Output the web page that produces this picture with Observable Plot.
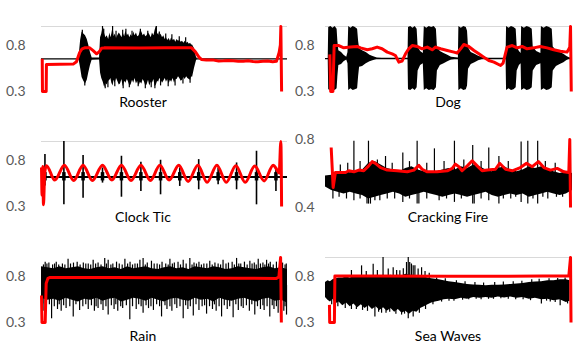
<!DOCTYPE html>
<html><head><meta charset="utf-8">
<script src="https://cdn.jsdelivr.net/npm/d3@7"></script>
<script src="https://cdn.jsdelivr.net/npm/@observablehq/plot@0.6"></script>
<style>
html,body{margin:0;padding:0;background:#fff;}
#chart{position:relative;width:579px;height:361px;overflow:hidden;font-family:Lato,sans-serif;}
#chart svg.panel{position:absolute;overflow:visible;}
#titles{position:absolute;left:0;top:0;}
</style></head><body><div id="chart"></div><script>
// ---------- titles & ticks ----------
const titles = ["Rooster","Dog","Clock Tic","Cracking Fire","Rain","Sea Waves"];
const ticksStd = [0.3, 0.8];
const ticksFire = [0.4, 0.8];

// ---------- Rooster ----------
const roosterCenter = 0.652;
const roosterEnvelope = [[0,0.652,0.652],[15.2,0.652,0.652],[15.9,0.55,0.85],[16.5,0.45,0.94],[17.2,0.41,0.92],[17.9,0.38,0.90],[18.6,0.42,0.86],[19.2,0.50,0.80],[19.9,0.58,0.72],[20.6,0.64,0.66],[23.6,0.645,0.66],[24.0,0.50,0.88],[24.5,0.44,0.92],[25.1,0.40,1.0],[25.7,0.34,0.92],[26.2,0.39,0.88],[26.7,0.37,0.90],[27.3,0.41,0.86],[27.8,0.42,0.93],[28.2,0.44,0.88],[28.6,0.39,0.92],[29.1,0.36,1.0],[29.5,0.42,0.89],[29.9,0.39,0.92],[30.5,0.44,0.87],[31.0,0.41,0.90],[31.6,0.37,0.93],[32.1,0.38,0.91],[32.7,0.43,0.88],[33.2,0.35,0.93],[33.8,0.41,0.89],[34.3,0.39,0.95],[34.9,0.43,0.90],[35.4,0.40,0.92],[35.9,0.36,0.88],[36.4,0.37,0.91],[37.0,0.42,0.89],[37.5,0.39,0.94],[38.0,0.44,0.90],[38.6,0.38,0.93],[39.1,0.41,0.89],[39.7,0.36,0.90],[40.2,0.40,0.95],[40.8,0.38,0.94],[41.3,0.43,0.90],[41.9,0.40,0.92],[42.4,0.36,0.89],[42.9,0.37,0.90],[43.5,0.42,0.93],[44.0,0.36,0.91],[44.6,0.40,0.88],[45.1,0.39,0.93],[45.7,0.43,0.90],[46.2,0.35,0.96],[46.7,0.37,1.0],[47.2,0.41,0.91],[47.6,0.40,0.93],[48.1,0.44,0.89],[48.6,0.42,0.92],[49.2,0.39,0.88],[49.7,0.41,0.90],[50.3,0.44,0.86],[50.8,0.40,0.88],[51.3,0.43,0.85],[51.9,0.38,0.87],[52.4,0.42,0.84],[52.9,0.40,0.88],[53.5,0.44,0.85],[54.1,0.39,0.86],[54.6,0.43,0.83],[55.1,0.43,0.86],[55.7,0.46,0.84],[56.2,0.44,0.85],[56.8,0.41,0.83],[57.3,0.42,0.84],[57.9,0.45,0.82],[58.4,0.43,0.84],[59.0,0.46,0.82],[59.5,0.44,0.83],[60.1,0.43,0.81],[60.6,0.42,0.82],[61.0,0.46,0.80],[61.4,0.45,0.80],[62.2,0.55,0.76],[63.0,0.63,0.67],[63.4,0.652,0.652],[100,0.652,0.652]];
const roosterSpikesUp = [[16.6,0.96],[24.8,1.0],[25.3,0.97],[28.9,1.0],[30.3,0.95],[33.0,0.96],[34.3,0.97],[36.8,0.95],[40.2,0.97],[43.2,0.95],[46.7,1.0],[47.9,0.94],[50.5,0.92],[53.0,0.91],[56.0,0.89],[58.6,0.88]];
const roosterSpikesDown = [[17.6,0.36],[25.9,0.33],[27.0,0.34],[29.8,0.35],[33.2,0.33],[35.7,0.34],[39.3,0.35],[42.2,0.33],[44.6,0.34],[46.1,0.33],[48.4,0.36],[51.5,0.35],[54.3,0.36],[57.5,0.38],[60.4,0.39]];
const roosterRed = [[0.3,0.652],[0.4,0.30],[1.9,0.30],[2.0,0.59],[12.9,0.595],[14.2,0.62],[15.5,0.72],[16.5,0.76],[17.5,0.77],[19.6,0.77],[21,0.74],[22.4,0.706],[23.5,0.73],[24.4,0.765],[25.5,0.77],[40,0.768],[50,0.77],[61,0.77],[62.5,0.73],[64,0.67],[65,0.645],[67,0.64],[70,0.638],[72,0.628],[74,0.63],[76,0.635],[78,0.632],[80,0.625],[82,0.625],[84,0.63],[86,0.622],[88,0.62],[90,0.625],[92,0.628],[94,0.62],[95.5,0.625],[96.6,0.72],[97.1,0.8],[97.3,1.0],[97.6,0.3]];

// ---------- Dog ----------
const dogCenter = 0.655;
const dogEnvelope = [[0,0.655,0.655],[1.1,0.655,0.655],[1.3,0.32,0.99],[2.2,0.31,1.0],[3.0,0.33,0.98],[3.9,0.31,1.0],[4.7,0.33,0.97],[5.0,0.46,0.84],[5.4,0.58,0.74],[6.5,0.59,0.72],[7.5,0.62,0.69],[8.6,0.64,0.67],[9.1,0.60,0.72],[9.4,0.31,1.0],[10.3,0.33,0.98],[11.2,0.31,1.0],[12.1,0.32,0.99],[13.0,0.33,0.97],[13.4,0.46,0.84],[13.8,0.56,0.76],[15.0,0.57,0.74],[16.5,0.60,0.72],[18.0,0.62,0.69],[19.5,0.635,0.675],[21,0.648,0.662],[23,0.652,0.658],[33.4,0.652,0.658],[33.6,0.32,0.99],[34.5,0.31,1.0],[35.4,0.33,0.98],[36.3,0.31,1.0],[37.1,0.34,0.97],[37.5,0.52,0.78],[38.5,0.58,0.73],[39.6,0.60,0.71],[40.0,0.31,1.0],[41.0,0.33,0.98],[42.0,0.31,1.0],[43.0,0.32,0.99],[44.0,0.31,1.0],[44.9,0.34,0.97],[45.3,0.52,0.78],[46.5,0.58,0.73],[48,0.60,0.71],[49.5,0.62,0.69],[51,0.64,0.67],[53.8,0.65,0.66],[54.0,0.31,1.0],[55.0,0.33,0.98],[56.0,0.31,1.0],[57.0,0.32,0.99],[57.5,0.36,0.95],[57.9,0.54,0.77],[59,0.59,0.72],[60.5,0.61,0.70],[62,0.63,0.68],[63.5,0.645,0.665],[66,0.652,0.658],[73.1,0.652,0.658],[73.3,0.31,1.0],[74.3,0.33,0.98],[75.3,0.31,1.0],[76.3,0.32,0.99],[77.2,0.34,0.97],[77.6,0.52,0.78],[78.5,0.58,0.73],[79.2,0.60,0.71],[79.4,0.31,1.0],[80.5,0.33,0.98],[81.6,0.31,1.0],[82.7,0.32,0.99],[83.7,0.34,0.97],[84.1,0.52,0.78],[85.5,0.58,0.73],[87.2,0.60,0.71],[87.4,0.31,1.0],[88.5,0.33,0.98],[89.6,0.31,1.0],[90.7,0.32,0.99],[91.8,0.34,0.97],[92.2,0.52,0.78],[93.5,0.57,0.74],[95,0.59,0.72],[96.5,0.61,0.70],[97.6,0.63,0.68],[98.5,0.645,0.665],[100,0.655,0.655]];
const dogRed = [[1.75,0.70],[2.1,0.30],[3.0,0.30],[3.5,0.795],[5.4,0.795],[7.4,0.77],[10.1,0.778],[12.8,0.785],[14.2,0.77],[16.9,0.75],[18.9,0.76],[20.9,0.778],[22.9,0.76],[25.0,0.724],[27.0,0.706],[28.3,0.688],[29.7,0.616],[31.0,0.627],[32.4,0.706],[33.7,0.76],[35.1,0.795],[37.1,0.785],[39.1,0.76],[41.2,0.778],[43.2,0.749],[44.5,0.778],[46.6,0.76],[49.3,0.742],[52.0,0.724],[53.3,0.713],[54.7,0.76],[56.0,0.806],[58.0,0.785],[60.1,0.742],[62.1,0.706],[64.1,0.67],[66.1,0.634],[68.2,0.616],[70.9,0.58],[71.9,0.605],[73.5,0.778],[75.6,0.795],[77.6,0.77],[79.6,0.785],[81.6,0.76],[84.3,0.77],[87.0,0.785],[89.7,0.77],[92.4,0.749],[95.1,0.734],[97.8,0.724],[98.9,0.778],[99.2,1.0],[99.5,0.30]];

// ---------- Clock Tic ----------
const clockCenter = 0.617;
const clockTickT  = [1.4,9.1,16.9,24.8,32.5,40.4,48.4,56.2,63.9,71.8,79.3,87.4,95.3];
const clockTickLo = [0.52,0.318,0.39,0.552,0.40,0.462,0.426,0.516,0.48,0.534,0.48,0.318,0.462];
const clockTickHi = [0.86,1.0,0.848,0.715,0.841,0.776,0.798,0.715,0.805,0.715,0.769,0.895,0.715];
const clockRed = [[0,0.72],[0.25,0.42],[0.5,0.73],[0.8,0.32],[1.3,0.66],[2.0,0.74],[5.4,0.585],[9.3,0.745],[13.1,0.58],[16.9,0.745],[20.7,0.58],[24.8,0.745],[28.6,0.585],[32.5,0.745],[36.4,0.58],[40.4,0.745],[44.3,0.58],[48.1,0.745],[51.9,0.585],[55.8,0.745],[59.6,0.57],[63.6,0.745],[67.3,0.56],[71.3,0.745],[75.1,0.56],[79.0,0.74],[82.8,0.56],[86.7,0.735],[90.5,0.575],[94.2,0.745],[95.6,0.70],[96.6,0.66],[97.3,1.0],[97.6,0.3]];

// ---------- Cracking Fire ----------
const fireEnvelope = [[0,0.52,0.585],[2.5,0.50,0.59],[5,0.49,0.60],[7.5,0.48,0.61],[10,0.49,0.605],[12.5,0.48,0.61],[15,0.47,0.62],[17.5,0.45,0.66],[20,0.46,0.67],[22.5,0.47,0.65],[25,0.48,0.63],[27.5,0.49,0.62],[30,0.48,0.61],[32.5,0.46,0.63],[35,0.47,0.64],[37.5,0.48,0.62],[40,0.49,0.61],[42.5,0.48,0.60],[45,0.47,0.61],[47.5,0.46,0.62],[50,0.47,0.63],[52.5,0.48,0.62],[55,0.47,0.64],[57.5,0.46,0.63],[60,0.47,0.65],[62.5,0.48,0.64],[65,0.49,0.62],[67.5,0.47,0.61],[70,0.46,0.63],[72.5,0.47,0.64],[75,0.48,0.62],[77.5,0.47,0.61],[80,0.48,0.62],[82.5,0.46,0.64],[85,0.47,0.63],[87.5,0.48,0.64],[90,0.49,0.62],[92.5,0.48,0.61],[95,0.47,0.60],[97.5,0.48,0.61],[100,0.50,0.60]];
const fireSpikesUp = [[6,0.65],[9,0.66],[11.5,0.79],[14,0.67],[17.4,0.79],[21,0.68],[24.3,0.70],[27,0.66],[31.3,0.72],[34,0.67],[37.1,0.79],[41,0.66],[44.1,0.745],[48,0.67],[52.2,0.79],[56,0.68],[59.6,0.765],[63,0.67],[66.1,0.75],[70.2,0.70],[74,0.67],[79.2,0.785],[81.9,0.79],[85.9,0.79],[89,0.67],[93,0.66]];
const fireSpikesDown = [[3.0,0.45],[5.5,0.46],[8.5,0.45],[11.5,0.44],[14,0.45],[16.8,0.42],[17.4,0.42],[18.2,0.42],[20,0.44],[22,0.44],[25,0.45],[28,0.45],[31.3,0.43],[34,0.45],[37.1,0.42],[37.8,0.42],[41,0.45],[46,0.44],[49,0.45],[52.2,0.43],[55,0.45],[59.6,0.42],[60.2,0.42],[63,0.45],[66.1,0.44],[70.2,0.42],[72,0.45],[75,0.45],[77,0.46],[79.2,0.43],[81.9,0.42],[84,0.45],[85.9,0.42],[88,0.46],[90,0.45],[93.5,0.46],[96,0.46]];
const fireRed = [[2.3,0.753],[3.1,0.518],[4.0,0.606],[8.1,0.606],[9.4,0.616],[11.5,0.61],[13.5,0.62],[15.5,0.616],[17.5,0.645],[18.9,0.67],[20.2,0.66],[22.3,0.635],[25.0,0.62],[29,0.616],[33.1,0.61],[35.8,0.62],[37.8,0.648],[39.1,0.625],[41.2,0.61],[45.2,0.61],[49.3,0.616],[51.3,0.63],[52.6,0.655],[54,0.64],[55.3,0.616],[57.4,0.645],[59.4,0.675],[61.4,0.645],[63.4,0.616],[65.5,0.62],[68.8,0.625],[70.5,0.66],[72.9,0.625],[75.6,0.616],[78.9,0.635],[81.4,0.66],[83.7,0.64],[86.2,0.67],[88.4,0.635],[91.1,0.62],[93.8,0.63],[96.5,0.61],[98.5,0.606],[98.9,0.8],[99.2,0.4]];

// ---------- Rain ----------
const rainEnvelope = [[0,0.56,0.90],[2.5,0.54,0.89],[5,0.55,0.88],[7.5,0.53,0.90],[10,0.56,0.88],[12.5,0.54,0.89],[15,0.52,0.90],[17.5,0.55,0.88],[20,0.54,0.87],[22.5,0.56,0.89],[25,0.53,0.90],[27.5,0.55,0.88],[30,0.56,0.89],[32.5,0.52,0.87],[35,0.54,0.90],[37.5,0.56,0.88],[40,0.55,0.89],[42.5,0.53,0.90],[45,0.56,0.88],[47.5,0.54,0.87],[50,0.52,0.89],[52.5,0.55,0.90],[55,0.56,0.88],[57.5,0.54,0.89],[60,0.53,0.87],[62.5,0.56,0.90],[65,0.54,0.89],[67.5,0.55,0.88],[70,0.52,0.90],[72.5,0.56,0.89],[75,0.54,0.87],[77.5,0.53,0.88],[80,0.55,0.90],[82.5,0.56,0.89],[85,0.54,0.88],[87.5,0.52,0.87],[90,0.55,0.89],[92.5,0.56,0.90],[95,0.53,0.88],[97.5,0.54,0.89],[100,0.51,0.87]];
const rainSpikesUp = [[1.5,0.95],[3,0.94],[6,0.95],[8.5,0.93],[10.8,0.98],[13,0.94],[14.5,0.95],[17,0.94],[19,0.93],[21,0.97],[23,0.94],[25.7,0.99],[27.1,0.97],[29,0.93],[30.5,0.95],[33.9,0.98],[36,0.95],[38,0.93],[40,0.97],[41.3,0.99],[43,0.94],[44.7,0.96],[47,0.93],[49,0.95],[52.2,0.98],[54,0.94],[55.5,0.95],[57.6,0.97],[60.3,0.99],[62,0.94],[64,0.95],[66,0.93],[68.4,0.96],[70.5,0.94],[73.8,0.97],[76,0.94],[77.5,0.95],[79.3,0.99],[81,0.93],[82.5,0.95],[84.7,0.96],[86.5,0.94],[88.1,0.98],[90,0.94],[91.5,0.97],[93,0.95],[95.5,0.95],[98,0.94],[99.5,0.93]];
const rainFringeUp = [[0.8,0.92],[2.2,0.93],[4.5,0.92],[5.3,0.93],[7,0.92],[9.5,0.92],[11.8,0.93],[15.7,0.92],[18,0.93],[20,0.92],[22,0.93],[24.2,0.92],[26.4,0.93],[28.2,0.92],[31.6,0.93],[32.8,0.92],[35,0.93],[37,0.92],[39,0.93],[42.2,0.92],[45.8,0.93],[48,0.92],[50.5,0.93],[51.5,0.92],[53.2,0.93],[56.5,0.92],[58.8,0.93],[61.2,0.92],[63,0.93],[65,0.92],[67.2,0.93],[69.4,0.92],[71.8,0.93],[72.8,0.92],[75,0.93],[78.4,0.92],[80.2,0.93],[83.6,0.92],[85.6,0.93],[87.3,0.92],[89,0.93],[90.8,0.92],[92.3,0.93],[94.2,0.92],[96.8,0.93],[99,0.92]];
const rainSpikesDown = [[1,0.42],[4.1,0.34],[6.5,0.44],[8,0.42],[10,0.45],[12.9,0.36],[15.5,0.43],[19,0.44],[21.5,0.42],[23,0.45],[25,0.43],[27.1,0.38],[29.5,0.44],[31,0.42],[33,0.45],[35.9,0.33],[38.5,0.44],[41.3,0.40],[43.5,0.45],[45.5,0.43],[48.8,0.36],[51,0.44],[53,0.42],[55,0.45],[57.6,0.34],[59.5,0.44],[61.7,0.37],[64,0.43],[67.1,0.39],[69.5,0.44],[71,0.42],[73.2,0.36],[75.5,0.44],[77.9,0.35],[80,0.43],[82,0.45],[84.5,0.42],[86.7,0.38],[89,0.44],[90.5,0.43],[92.8,0.36],[94.5,0.44],[96.2,0.40],[98.5,0.42],[99.6,0.38]];
const rainFringeDown = [[0.5,0.50],[2,0.48],[3.2,0.49],[5.2,0.47],[7.2,0.49],[9,0.48],[11.5,0.47],[14,0.49],[16.8,0.47],[18,0.49],[20.3,0.48],[22.2,0.47],[24.2,0.49],[26.2,0.47],[28.4,0.48],[30.2,0.49],[32.2,0.47],[34.5,0.48],[37,0.47],[39.5,0.49],[40.5,0.47],[42.5,0.48],[44.5,0.47],[46.8,0.49],[48,0.47],[50.2,0.48],[52.2,0.47],[54.2,0.49],[56.3,0.47],[58.6,0.48],[60.5,0.47],[62.8,0.49],[65.3,0.47],[66.3,0.48],[68.3,0.47],[70.3,0.49],[72.2,0.47],[74.3,0.48],[76.5,0.47],[79,0.49],[81.2,0.47],[83.3,0.48],[85.5,0.49],[87.8,0.47],[90,0.48],[91.7,0.47],[93.8,0.48],[95.5,0.47],[97.5,0.48],[99,0.47]];
const rainRed = [[0,0.59],[0.2,0.30],[1.5,0.30],[1.9,0.72],[2.6,0.775],[3.5,0.785],[30,0.785],[60,0.78],[80,0.776],[95.5,0.775],[96.5,0.79],[97.2,1.0],[97.5,0.30]];

// ---------- Sea Waves ----------
const seaEnvelope = [[0,0.57,0.73],[1,0.54,0.75],[2,0.52,0.74],[3,0.55,0.76],[4,0.50,0.77],[5.5,0.52,0.78],[7,0.48,0.78],[8.5,0.51,0.79],[10,0.47,0.78],[11.5,0.50,0.79],[13,0.46,0.79],[14.5,0.49,0.80],[16,0.45,0.79],[17.5,0.48,0.80],[19,0.44,0.79],[20.5,0.47,0.80],[22,0.43,0.80],[23.5,0.46,0.81],[25,0.42,0.80],[26.5,0.45,0.81],[28,0.41,0.80],[29.5,0.44,0.81],[31,0.40,0.80],[32.5,0.42,0.82],[34,0.39,0.81],[35.5,0.42,0.81],[37,0.41,0.80],[38.5,0.45,0.79],[40,0.47,0.79],[41.5,0.49,0.78],[43,0.51,0.77],[44.5,0.52,0.765],[46,0.53,0.76],[48,0.545,0.75],[50,0.55,0.74],[52.5,0.545,0.73],[55,0.56,0.72],[57.5,0.55,0.71],[60,0.57,0.705],[62.5,0.56,0.70],[65,0.57,0.695],[67.5,0.56,0.70],[70,0.575,0.70],[72.5,0.565,0.705],[75,0.575,0.71],[77.5,0.56,0.715],[80,0.57,0.72],[82.5,0.55,0.73],[85,0.56,0.735],[87.5,0.545,0.74],[90,0.55,0.75],[92.5,0.535,0.75],[95,0.545,0.76],[97.5,0.515,0.76],[99,0.53,0.75]];
const seaSpikesUp = [[10.5,0.86],[14.6,0.91],[16.5,0.85],[19.3,0.928],[21,0.86],[23.3,1.0],[25.4,0.875],[27.4,0.89],[28.8,0.86],[30.1,0.857],[31.5,0.88],[32.8,0.946],[33.5,1.0],[34.1,0.946],[34.8,0.93],[35.5,0.91],[36.2,0.91],[37.5,0.875],[38.9,0.89],[40.3,0.85],[42,0.83],[45,0.78],[48.5,0.77],[53,0.75],[56.5,0.74],[60.5,0.73],[64,0.725],[68.5,0.73],[72,0.735],[76,0.74],[79.5,0.745],[83.5,0.76],[86.5,0.765],[90.5,0.77],[94,0.775],[97,0.78]];
const seaSpikesDown = [[2.5,0.49],[5,0.47],[8,0.45],[10.5,0.44],[12.5,0.44],[15,0.43],[17,0.42],[20,0.36],[21.5,0.41],[22.7,0.40],[24.5,0.40],[26,0.41],[28.5,0.39],[30.8,0.38],[32,0.39],[33.5,0.34],[35.5,0.36],[38,0.40],[40.5,0.44],[43.5,0.49],[47,0.52],[50,0.53],[52,0.53],[55.5,0.54],[58,0.545],[61,0.55],[63,0.545],[66,0.55],[68,0.55],[71,0.555],[74,0.55],[77,0.545],[80,0.545],[83,0.535],[87.4,0.50],[89.5,0.53],[91,0.52],[93,0.515],[95,0.48],[98,0.50]];
const seaRed = [[1.6,0.49],[1.7,0.30],[3.6,0.30],[3.8,0.80],[20,0.802],[50,0.798],[66,0.797],[88,0.80],[98.5,0.80],[99.2,1.0],[99.4,0.30]];

// ---------- layout (pixels) ----------
const panels = [
  {title:titles[0], left:0,   top:16,  h:80, ml:41, mr:3, pad:16, ticks:ticksStd, dom:[0.3,1], grid:true, center:roosterCenter, cw:1.2, env:roosterEnvelope, spikes:[roosterSpikesUp,roosterSpikesDown], base:0.652, red:roosterRed, tx:143, ty:107},
  {title:titles[1], left:289, top:16,  h:80, ml:36, mr:7, pad:11, ticks:ticksStd, dom:[0.3,1], grid:true, center:dogCenter, cw:1.2, env:dogEnvelope, red:dogRed, tx:448, ty:107},
  {title:titles[2], left:0,   top:131, h:80, ml:41, mr:3, pad:16, ticks:ticksStd, dom:[0.3,1], grid:true, center:clockCenter, cw:2, clock:true, red:clockRed, curve:"monotone-x", tx:143, ty:222},
  {title:titles[3], left:289, top:129, h:83, ml:36, mr:7, pad:11, ticks:ticksFire, dom:[0.4,0.8], grid:false, env:fireEnvelope, spikes:[fireSpikesUp,fireSpikesDown], base:0.55, red:fireRed, tx:448, ty:222},
  {title:titles[4], left:0,   top:247, h:80, ml:41, mr:3, pad:16, ticks:ticksStd, dom:[0.3,1], grid:false, env:rainEnvelope, spikes:[rainSpikesUp,rainFringeUp,rainSpikesDown,rainFringeDown], base:0.7, red:rainRed, tx:143, ty:341},
  {title:titles[5], left:289, top:247, h:80, ml:36, mr:7, pad:11, ticks:ticksStd, dom:[0.3,1], grid:true, env:seaEnvelope, spikes:[seaSpikesUp,seaSpikesDown], base:0.65, red:seaRed, tx:448, ty:341}
];

const chart = document.getElementById("chart");
const hasAxisMark = typeof Plot.axisY === "function";

for (const p of panels) {
  const marks = [];
  if (p.grid) marks.push(Plot.ruleY([p.dom[1]], {stroke:"#d9d9d9", strokeWidth:1}));
  if (p.center != null) marks.push(Plot.ruleY([p.center], {stroke:"#000", strokeWidth:p.cw}));
  if (p.env) marks.push(Plot.areaY(p.env, {x:d=>d[0], y1:d=>d[1], y2:d=>d[2], fill:"#000", curve:"linear"}));
  if (p.spikes) for (const arr of p.spikes)
    marks.push(Plot.ruleX(arr, {x:d=>d[0], y1:p.base, y2:d=>d[1], stroke:"#000", strokeWidth:1.2}));
  if (p.clock) {
    marks.push(Plot.ruleX(clockTickT, {x:d=>d, y1:(d,i)=>clockTickLo[i], y2:(d,i)=>clockTickHi[i], stroke:"#000", strokeWidth:1.6}));
    marks.push(Plot.ruleX(clockTickT, {x:d=>d, y1:(d,i)=>Math.max(clockTickLo[i],0.575), y2:(d,i)=>Math.min(clockTickHi[i],0.665), stroke:"#000", strokeWidth:3.5}));
  }
  marks.push(Plot.line(p.red, {x:d=>d[0], y:d=>d[1], stroke:"#ff0000", strokeWidth:3, curve:p.curve || "linear", strokeLinejoin:"round", strokeLinecap:"butt"}));
  const yScale = {domain:p.dom};
  if (hasAxisMark) {
    marks.push(Plot.axisY(p.ticks, {tickSize:0, tickPadding:p.pad, tickFormat:d3.format(".1f"), fontSize:14, label:null}));
  } else {
    Object.assign(yScale, {ticks:p.ticks, tickSize:0, tickPadding:p.pad, tickFormat:d3.format(".1f"), label:null});
  }
  const svg = Plot.plot({
    width:290, height:p.h,
    marginLeft:p.ml, marginRight:p.mr, marginTop:10, marginBottom:p.h - 10 - (p.dom[0] === 0.4 ? 68 : 65),
    x:{domain:[0,100], axis:null},
    y:yScale,
    style:{fontFamily:"Lato, sans-serif", fontSize:"14px", color:"#595959", background:"transparent", overflow:"visible"},
    marks
  });
  svg.classList.add("panel");
  svg.style.left = p.left + "px";
  svg.style.top = p.top + "px";
  chart.appendChild(svg);
}

// titles as real text
const tsvg = d3.create("svg").attr("id","titles").attr("width",579).attr("height",361);
tsvg.selectAll("text").data(panels).join("text")
  .attr("x", d=>d.tx).attr("y", d=>d.ty)
  .attr("text-anchor","middle")
  .attr("font-family","Lato, sans-serif").attr("font-size",14).attr("fill","#000")
  .text(d=>d.title);
chart.appendChild(tsvg.node());
</script></body></html>
